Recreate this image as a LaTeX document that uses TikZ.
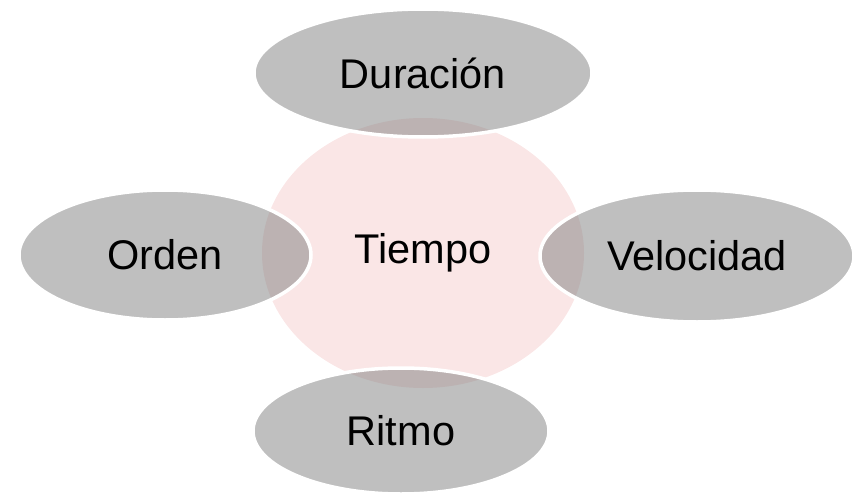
\documentclass[tikz,border=0pt]{standalone}
\usepackage{fontspec}
\setmainfont{Liberation Sans}
\usetikzlibrary{shapes.geometric}
\definecolor{pinkfill}{RGB}{250,230,230}
\definecolor{grayfill}{RGB}{127,127,127}
\tikzset{
  center/.style={ellipse, fill=pinkfill, inner sep=0pt,
    font=\fontsize{41.5}{41.5}\selectfont},
  sat/.style={ellipse, fill=grayfill, fill opacity=0.5, text opacity=1,
    draw=white, line width=3.5pt, inner sep=0pt,
    font=\fontsize{41.5}{41.5}\selectfont}
}
\begin{document}
\begin{tikzpicture}[x=1pt,y=-1pt]
\useasboundingbox (0,0) rectangle (857,495);
\node[center, minimum width=322pt, minimum height=270pt] (tiempo) at (423,253) {Tiempo};
\node[sat, minimum width=338pt, minimum height=128pt] (duracion) at (423,73) {Duración};
\node[sat, minimum width=292pt, minimum height=130pt] (orden) at (165,255) {Orden};
\node[sat, minimum width=314pt, minimum height=132pt] (velocidad) at (697,256) {Velocidad};
\node[sat, minimum width=296pt, minimum height=126pt] (ritmo) at (401,431) {Ritmo};
\end{tikzpicture}
\end{document}
